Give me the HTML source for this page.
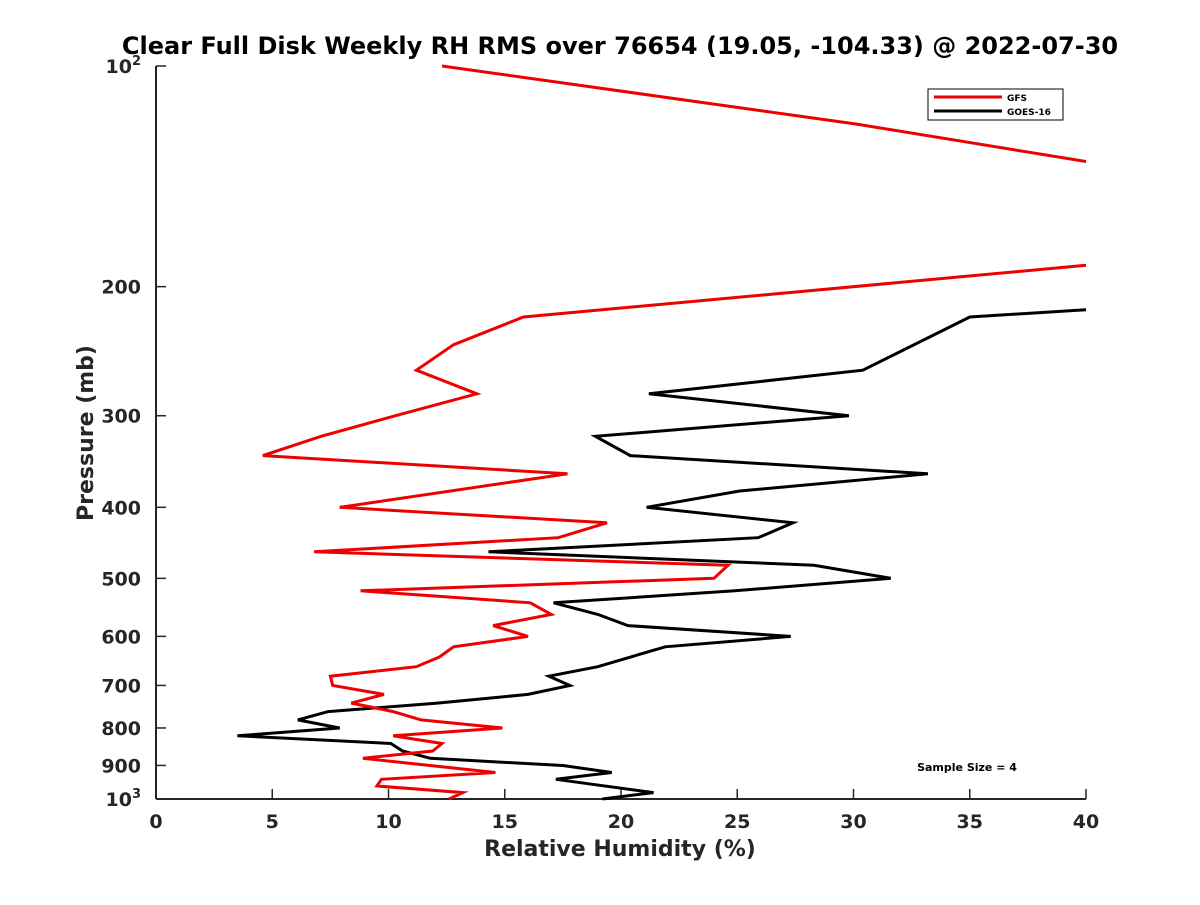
<!DOCTYPE html>
<html><head><meta charset="utf-8"><style>
body{margin:0;background:#fff;}
svg{font-family:"DejaVu Sans","Liberation Sans",sans-serif;}
</style></head><body>
<svg width="1200" height="900">
<defs><clipPath id="plotclip"><rect x="150" y="60" width="936" height="745"/></clipPath></defs>
<text x="620" y="54" text-anchor="middle" font-size="24" font-weight="bold">Clear Full Disk Weekly RH RMS over 76654 (19.05, -104.33) @ 2022-07-30</text>
<g id="axes"></g>
<g id="series" clip-path="url(#plotclip)"></g>
<text x="620" y="856" text-anchor="middle" font-size="22" font-weight="bold" fill="#262626">Relative Humidity (%)</text>
<text transform="translate(93,433) rotate(-90)" text-anchor="middle" font-size="22" font-weight="bold" fill="#262626">Pressure (mb)</text>
<g>
<rect x="928" y="89" width="135" height="31" fill="#fff" stroke="#000" stroke-width="1"/>
<line x1="934" y1="97" x2="1002" y2="97" stroke="#e00" stroke-width="3"/>
<text x="1007" y="101" font-size="9" font-weight="bold">GFS</text>
<line x1="934" y1="111" x2="1002" y2="111" stroke="#000" stroke-width="3"/>
<text x="1007" y="115" font-size="9" font-weight="bold">GOES-16</text>
</g>
<text x="967" y="771" text-anchor="middle" font-size="11" font-weight="bold">Sample Size = 4</text>
</svg>
<script>
const levels=[100,120,135,150,175,187,200,215,220,240,260,280,300,320,340,360,380,400,420,440,460,480,500,520,540,560,580,600,620,640,660,680,700,720,740,760,780,800,820,840,860,880,900,920,940,960,980,1000];
const gfsRH=[12.3,30.1,40,60,60,40,null,null,15.8,12.8,11.2,13.8,10.3,7.1,4.6,17.7,null,7.9,19.4,17.3,6.8,24.6,24.0,8.8,16.1,17.0,14.5,16.0,12.8,12.2,11.2,7.5,7.6,9.8,8.4,10.2,11.4,14.9,10.2,12.3,11.9,8.9,null,14.6,9.7,9.5,13.2,12.6];
const goesRH=[null,null,null,null,null,null,60,40,35.0,null,30.4,21.2,29.8,18.9,20.4,33.2,25.1,21.1,27.4,25.9,14.3,28.3,31.6,24.9,17.1,19.0,20.3,27.3,21.9,null,19.0,16.9,17.8,16.0,12.1,7.4,6.1,7.9,3.5,10.1,10.6,11.8,17.5,19.6,17.2,null,21.4,19.2];
const xTicks=[0,5,10,15,20,25,30,35,40];
const yTicks=[100,200,300,400,500,600,700,800,900,1000];
const yTickLabels=["10|2","200","300","400","500","600","700","800","900","10|3"];
const X0=156,X1=1086,Y0=66,Y1=799;
function xs(v){return X0+(v-0)/40*(X1-X0);}
function ys(p){return Y0+Math.log10(p/100)*(Y1-Y0);}
const NS="http://www.w3.org/2000/svg";
const ax=document.getElementById('axes');
function mk(tag,attrs,parent){const e=document.createElementNS(NS,tag);for(const k in attrs)e.setAttribute(k,attrs[k]);parent.appendChild(e);return e;}
let l=mk('line',{x1:X0,y1:Y0,x2:X0,y2:Y1,stroke:'#262626','stroke-width':2},ax);


l=mk('line',{x1:X0,y1:Y1,x2:X1,y2:Y1,stroke:'#262626','stroke-width':2},ax);


xTicks.forEach(v=>{
 const t=mk('line',{x1:xs(v),y1:Y1,x2:xs(v),y2:Y1-10,stroke:'#262626','stroke-width':1.5},ax);
 
 
 const tx=mk('text',{x:xs(v),y:Y1+29,'text-anchor':'middle','font-size':19,'font-weight':'bold',fill:'#262626'},ax);
 tx.textContent=v;
 
 
});
yTicks.forEach((p,i)=>{
 const t=mk('line',{x1:X0,y1:ys(p),x2:X0+10,y2:ys(p),stroke:'#262626','stroke-width':1.5},ax);
 
 
 const tx=mk('text',{x:X0-15,y:ys(p)+7,'text-anchor':'end','font-size':19,'font-weight':'bold',fill:'#262626'},ax);
 const parts=yTickLabels[i].split('|');
 if(parts.length===2){
  const a=mk('tspan',{},tx);a.textContent=parts[0];
  const b=mk('tspan',{'font-size':13,dy:-8},tx);b.textContent=parts[1];
 } else tx.textContent=parts[0];
 
 
});
const sg=document.getElementById('series');
function drawSeries(vals,color,name){
 const pts=[];
 vals.forEach((v,i)=>{if(v!==null)pts.push(xs(v).toFixed(1)+','+ys(levels[i]).toFixed(1));});
 const pl=mk('polyline',{points:pts.join(' '),fill:'none',stroke:color,'stroke-width':3,'stroke-linejoin':'miter'},sg);
 
 
}
drawSeries(goesRH,'#000','goes16-line');
drawSeries(gfsRH,'#e00','gfs-line');
</script>
</body></html>
